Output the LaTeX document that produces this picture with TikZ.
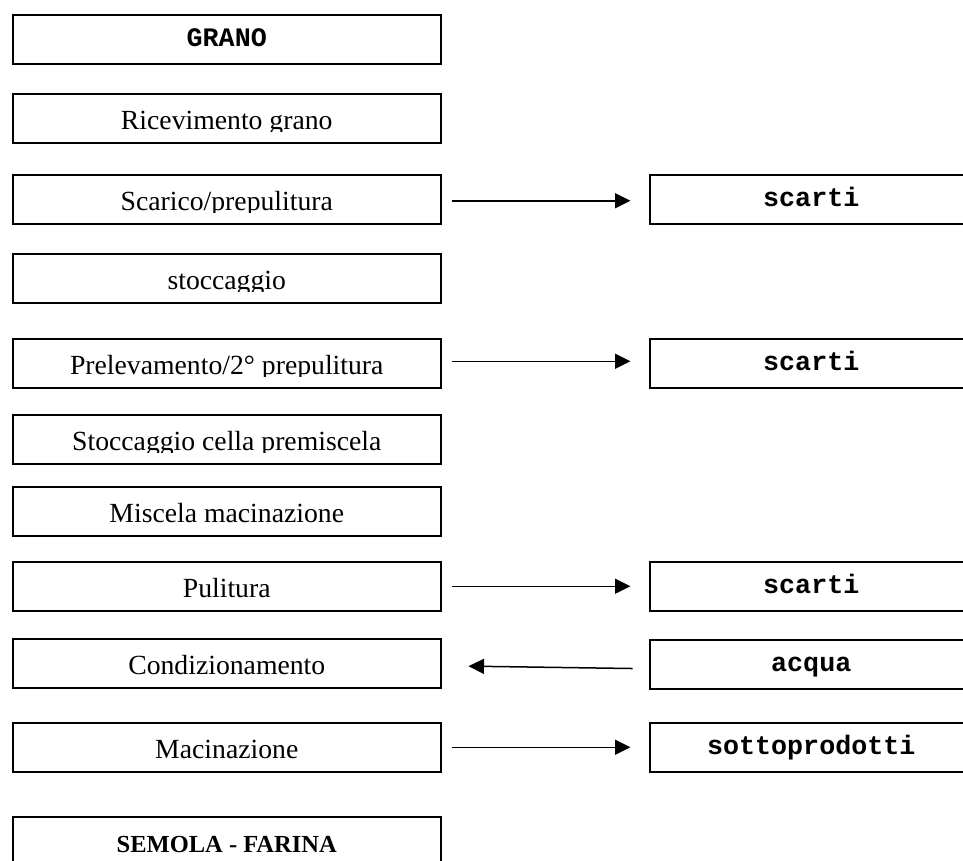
\documentclass[tikz,border=0pt]{standalone}
\usepackage{fontspec}
\setmainfont{Liberation Serif}
\setmonofont{Liberation Mono}
\usetikzlibrary{arrows.meta}
\tikzset{
  boxst/.style={draw=black, line width=1.5pt, rectangle, inner sep=0pt, minimum height=49pt, anchor=north west},
  flowarrow/.style={line width=1.5pt, -{Triangle[length=15.5pt,width=15pt]}},
}
\newcommand\serifreg{\fontsize{27.7}{33}\selectfont}
\newcommand\serifbold{\fontsize{24.5}{30}\selectfont\bfseries}
\newcommand\monobold{\fontsize{26.7}{30}\selectfont\ttfamily\bfseries}
% #1 name, #2 left x, #3 width, #4 top y, #5 font, #6 baseline offset, #7 text
\newcommand\flowstep[7]{%
  \node[boxst, minimum width=#3pt] (#1) at (#2,#4) {};
  \begin{scope}
    \clip (#2,#4) rectangle ++(#3,38.5);
    \node[anchor=base, inner sep=0pt, font=#5] (#1-text) at ([yshift=-#6pt]#1.north) {#7};
  \end{scope}
}
\begin{document}
\begin{tikzpicture}[x=1pt,y=-1pt]
\useasboundingbox (0,0) rectangle (963,860);
\clip (0,0) rectangle (963,860);
\fill[white] (0,0) rectangle (963,860);
% left column
\flowstep{grano}{12}{428}{14}{\monobold}{32}{GRANO}
\flowstep{ricev}{12}{428}{93}{\serifreg}{36.7}{Ricevimento grano}
\flowstep{scarico}{12}{428}{174}{\serifreg}{36.7}{Scarico/prepulitura}
\flowstep{stocc}{12}{428}{253}{\serifreg}{36.7}{stoccaggio}
\flowstep{prelev}{12}{428}{338}{\serifreg}{36.7}{Prelevamento/2° prepulitura}
\flowstep{cella}{12}{428}{414}{\serifreg}{36.7}{Stoccaggio cella premiscela}
\flowstep{miscela}{12}{428}{486}{\serifreg}{36.7}{Miscela macinazione}
\flowstep{pulitura}{12}{428}{561}{\serifreg}{36.7}{Pulitura}
\flowstep{condiz}{12}{428}{638}{\serifreg}{36.7}{Condizionamento}
\flowstep{macin}{12}{428}{722}{\serifreg}{36.7}{Macinazione}
\flowstep{semola}{12}{428}{816}{\serifbold}{36.7}{SEMOLA - FARINA}
% right column
\flowstep{scarti1}{649}{323}{174}{\monobold}{32}{scarti}
\flowstep{scarti2}{649}{323}{338}{\monobold}{32}{scarti}
\flowstep{scarti3}{649}{323}{561}{\monobold}{32}{scarti}
\flowstep{acqua}{649}{323}{639}{\monobold}{32}{acqua}
\flowstep{sottop}{649}{323}{722}{\monobold}{32}{sottoprodotti}
% connectors
\draw[flowarrow, shorten <=10pt, shorten >=18.5pt] ([yshift=-1.5pt]scarico.east) -- ([yshift=-1.5pt]scarti1.west);
\draw[flowarrow, shorten <=10pt, shorten >=18.5pt] ([yshift=2pt]prelev.east) -- ([yshift=2pt]scarti2.west);
\draw[flowarrow, shorten <=10pt, shorten >=18.5pt] (pulitura.east) -- (scarti3.west);
\draw[flowarrow, shorten <=16.5pt, shorten >=27pt] ([yshift=-4.5pt]acqua.west) -- ([yshift=-2.5pt]condiz.east);
\draw[flowarrow, shorten <=10pt, shorten >=18.5pt] (macin.east) -- (sottop.west);
\end{tikzpicture}
\end{document}
